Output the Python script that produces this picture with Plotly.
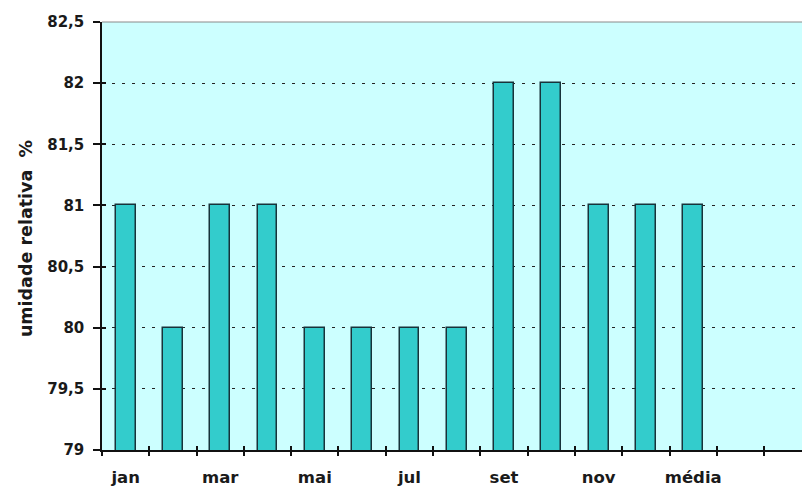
import plotly.graph_objects as go

# Monthly relative humidity (%) and the annual mean
months = ["jan", "fev", "mar", "abr", "mai", "jun", "jul", "ago", "set", "out", "nov", "dez", "média"]
humidity = [81, 80, 81, 81, 80, 80, 80, 80, 82, 82, 81, 81, 81]
y_ticks = [79, 79.5, 80, 80.5, 81, 81.5, 82, 82.5]

x_pos = list(range(len(months)))
label_pos = x_pos[::2]
label_text = months[::2]
boundaries = [i - 0.5 for i in range(len(months) + 2)]

x_range = [-0.5, 14.3]
y_range = [79, 82.5]

font_family = "DejaVu Sans, Arial, sans-serif"
ink = "#1a1a1a"

fig = go.Figure()

fig.add_trace(go.Bar(
    x=x_pos, y=humidity, width=0.42,
    marker=dict(color="#33CCCC", line=dict(color="#17333a", width=1.5)),
    showlegend=False, hoverinfo="x+y",
))
# empty traces so the overlay axes carrying the crossing tick marks get drawn
fig.add_trace(go.Scatter(x=[None], y=[None], xaxis="x2", yaxis="y", showlegend=False, hoverinfo="skip"))
fig.add_trace(go.Scatter(x=[None], y=[None], xaxis="x3", yaxis="y2", showlegend=False, hoverinfo="skip"))

common_x = dict(range=x_range, showgrid=False, zeroline=False, fixedrange=True, automargin=False)

fig.update_layout(
    width=802, height=486,
    margin=dict(l=102, r=0, t=22, b=36),
    paper_bgcolor="white",
    plot_bgcolor="#CCFFFF",
    separators=", ",
    bargap=0,
    xaxis=dict(
        **common_x,
        tickmode="array", tickvals=label_pos, ticktext=label_text,
        ticks="outside", ticklen=11, tickcolor="rgba(0,0,0,0)",
        tickfont=dict(family=font_family, size=16.5, color=ink, weight="bold"),
        showline=True, linecolor="#111111", linewidth=1.5,
    ),
    xaxis2=dict(
        **common_x, overlaying="x", anchor="y", side="bottom",
        tickmode="array", tickvals=boundaries,
        ticks="outside", ticklen=5, tickwidth=1.5, tickcolor="#111111",
        showticklabels=False, showline=False,
    ),
    xaxis3=dict(
        **common_x, overlaying="x", anchor="y", side="bottom",
        tickmode="array", tickvals=boundaries,
        ticks="inside", ticklen=4, tickwidth=1.5, tickcolor="#111111",
        showticklabels=False, showline=False,
    ),
    yaxis=dict(
        range=y_range, tickmode="array", tickvals=y_ticks,
        ticks="outside", ticklen=7, tickwidth=1.5, tickcolor="#111111",
        ticklabelstandoff=6, automargin=False,
        tickfont=dict(family=font_family, size=15, color=ink, weight="bold"),
        showgrid=True, gridcolor="#222222", gridwidth=1, griddash="3px,7px",
        zeroline=False, showline=True, linecolor="#111111", linewidth=1.5,
        fixedrange=True,
    ),
    yaxis2=dict(
        range=y_range, overlaying="y", anchor="x", side="left", automargin=False,
        tickmode="array", tickvals=y_ticks,
        ticks="inside", ticklen=4, tickwidth=1.5, tickcolor="#111111",
        showticklabels=False, showgrid=False, zeroline=False, showline=False,
        fixedrange=True,
    ),
    shapes=[dict(type="line", xref="paper", yref="paper", x0=0, x1=1, y0=1, y1=1,
                 line=dict(color="#8a8a8a", width=1))],
    annotations=[dict(
        text="umidade relativa  %", textangle=-90,
        xref="paper", yref="paper", x=-0.1086, y=0.495,
        xanchor="center", yanchor="middle", showarrow=False,
        font=dict(family=font_family, size=17.5, color=ink, weight="bold"),
    )],
)

fig.write_html("out.html")
